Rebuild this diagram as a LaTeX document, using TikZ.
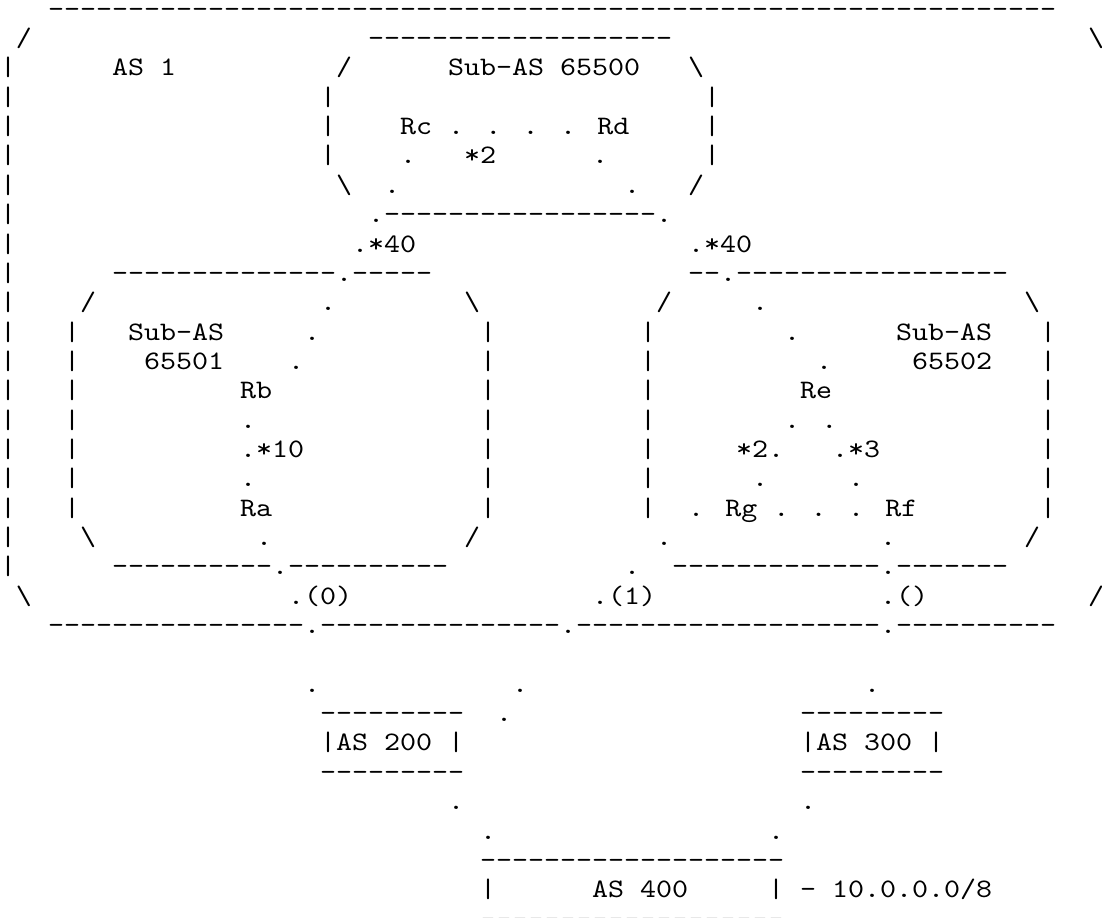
\documentclass[tikz,border=0pt]{standalone}
\usepackage{fontspec}
\newfontfamily\ascfont{lmmono10-regular.otf}[FakeStretch=1.1429]
\usetikzlibrary{positioning}
\newcommand{\dashrun}[1]{\foreach \i in {1,...,#1}{-}}
\tikzset{asc/.style={anchor=base west, inner sep=0pt, outer sep=0pt,
    font=\ascfont\fontsize{26.67pt}{29.35pt}\selectfont}}

\begin{document}
\begin{tikzpicture}[x=16pt, y=-29.35pt]
    \useasboundingbox (0,-0.586) rectangle (68.875,30.69);

    % AS 1 border
    \node[asc] (astop) at (3,0) {\dashrun{63}};
    \node[asc] (astl) at (1,1) {/};
    \node[asc] (astr) at (68,1) {\textbackslash};
    \foreach \r in {2,...,19} {
        \node[asc] (asl\r) at (0,\r) {|};
    }
    \node[asc] (asbl) at (1,20) {\textbackslash};
    \node[asc] (asbr) at (68,20) {/};
    \node[asc] (asbot) at (3,21) {\dashrun{16}.\dashrun{15}.\dashrun{19}.\dashrun{10}};
    \node[asc] (asname) at (7,2) {AS 1};

    % Sub-AS 65500
    \node[asc] (ctop) at (23,1) {\dashrun{19}};
    \node[asc] (ctl) at (21,2) {/};
    \node[asc] (ctr) at (43,2) {\textbackslash};
    \foreach \r in {3,4,5} {
        \node[asc] (cl\r) at (20,\r) {|};
        \node[asc] (cr\r) at (44,\r) {|};
    }
    \node[asc] (cbl) at (21,6) {\textbackslash};
    \node[asc] (cbr) at (43,6) {/};
    \node[asc] (cbot) at (23,7) {.\dashrun{17}.};
    \node[asc] (cname) at (28,2) {Sub-AS 65500};
    \node[asc] (rcrd) at (25,4) {Rc . . . . Rd};
    \node[asc] (c5l) at (25,5) {.};
    \node[asc] (ccost) at (29,5) {*2};
    \node[asc] (c5r) at (37,5) {.};
    \node[asc] (c6l) at (24,6) {.};
    \node[asc] (c6r) at (39,6) {.};

    % links down to the lower sub-ASes
    \node[asc] (lcost) at (22,8) {.*40};
    \node[asc] (rcost) at (43,8) {.*40};
    \foreach \r/\c in {10/20, 11/19, 12/18} {
        \node[asc] (ll\r) at (\c,\r) {.};
    }
    \foreach \r/\c in {10/47, 11/49, 12/51} {
        \node[asc] (rl\r) at (\c,\r) {.};
    }

    % Sub-AS 65501
    \node[asc] (atop) at (7,9) {\dashrun{14}.\dashrun{5}};
    \node[asc] (atl) at (5,10) {/};
    \node[asc] (atr) at (29,10) {\textbackslash};
    \foreach \r in {11,...,17} {
        \node[asc] (al\r) at (4,\r) {|};
        \node[asc] (ar\r) at (30,\r) {|};
    }
    \node[asc] (abl) at (5,18) {\textbackslash};
    \node[asc] (abr) at (29,18) {/};
    \node[asc] (abot) at (7,19) {\dashrun{10}.\dashrun{10}};
    \node[asc] (aname) at (8,11) {Sub-AS};
    \node[asc] (anum) at (9,12) {65501};
    \node[asc] (rb) at (15,13) {Rb};
    \node[asc] (a14) at (15,14) {.};
    \node[asc] (acost) at (15,15) {.*10};
    \node[asc] (a16) at (15,16) {.};
    \node[asc] (ra) at (15,17) {Ra};
    \node[asc] (a18) at (16,18) {.};
    \node[asc] (amed) at (18,20) {.(0)};

    % Sub-AS 65502
    \node[asc] (btop) at (43,9) {--.\dashrun{17}};
    \node[asc] (btl) at (41,10) {/};
    \node[asc] (btr) at (64,10) {\textbackslash};
    \foreach \r in {11,...,17} {
        \node[asc] (bl\r) at (40,\r) {|};
        \node[asc] (br\r) at (65,\r) {|};
    }
    \node[asc] (bbr) at (64,18) {/};
    \node[asc] (bbot) at (42,19) {\dashrun{13}.\dashrun{7}};
    \node[asc] (bname) at (56,11) {Sub-AS};
    \node[asc] (bnum) at (57,12) {65502};
    \node[asc] (re) at (50,13) {Re};
    \node[asc] (b14) at (49,14) {. .};
    \node[asc] (bcostl) at (46,15) {*2.};
    \node[asc] (bcostr) at (52,15) {.*3};
    \node[asc] (b16l) at (47,16) {.};
    \node[asc] (b16r) at (53,16) {.};
    \node[asc] (rgrf) at (43,17) {. Rg . . . Rf};
    \node[asc] (b18) at (55,18) {.};
    \node[asc] (bmed) at (55,20) {.()};

    % link from Rg out of AS 1
    \node[asc] (g18) at (41,18) {.};
    \node[asc] (g19) at (39,19) {.};
    \node[asc] (gmed) at (37,20) {.(1)};

    % AS 200 and AS 300
    \node[asc] (d23a) at (19,23) {.};
    \node[asc] (d23b) at (32,23) {.};
    \node[asc] (d23c) at (54,23) {.};
    \node[asc] (d24) at (31,24) {.};
    \node[asc] (twotop) at (20,24) {\dashrun{9}};
    \node[asc] (two) at (20,25) {|AS 200 |};
    \node[asc] (twobot) at (20,26) {\dashrun{9}};
    \node[asc] (thrtop) at (50,24) {\dashrun{9}};
    \node[asc] (thr) at (50,25) {|AS 300 |};
    \node[asc] (thrbot) at (50,26) {\dashrun{9}};
    \node[asc] (d27a) at (28,27) {.};
    \node[asc] (d27b) at (50,27) {.};
    \node[asc] (d28a) at (30,28) {.};
    \node[asc] (d28b) at (48,28) {.};

    % AS 400
    \node[asc] (fourtop) at (30,29) {\dashrun{19}};
    \node[asc] (fourl) at (30,30) {|};
    \node[asc] (four) at (37,30) {AS 400};
    \node[asc] (fourr) at (48,30) {|};
    \node[asc] (pfx) at (50,30) {- 10.0.0.0/8};
    \node[asc] (fourbot) at (30,31) {\dashrun{19}};
\end{tikzpicture}
\end{document}
